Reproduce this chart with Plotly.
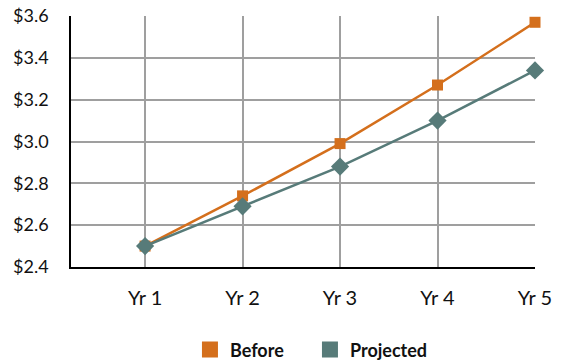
import plotly.graph_objects as go

categories = ["Yr 1", "Yr 2", "Yr 3", "Yr 4", "Yr 5"]
before = [2.50, 2.74, 2.99, 3.27, 3.57]
projected = [2.50, 2.69, 2.88, 3.10, 3.34]
y_ticks = [2.4, 2.6, 2.8, 3.0, 3.2, 3.4, 3.6]
y_labels = ["$2.4", "$2.6", "$2.8", "$3.0", "$3.2", "$3.4", "$3.6"]
series_names = ["Before", "Projected"]

x = list(range(len(categories)))
orange = "#d46f1c"
teal = "#577b79"

fig = go.Figure()
fig.add_trace(go.Scatter(
    x=x, y=before, name=series_names[0], mode="lines+markers", showlegend=False,
    line=dict(color=orange, width=2.5), cliponaxis=False,
    marker=dict(symbol="square", size=11, color=orange),
))
fig.add_trace(go.Scatter(
    x=x, y=projected, name=series_names[1], mode="lines+markers", showlegend=False,
    line=dict(color=teal, width=2.5), cliponaxis=False,
    marker=dict(symbol="diamond", size=14, color=teal),
))
# legend entries (square swatches)
for nm, col in zip(series_names, [orange, teal]):
    fig.add_trace(go.Scatter(
        x=[None], y=[None], name=nm, mode="markers",
        marker=dict(symbol="square", size=17, color=col),
    ))

fig.update_layout(
    width=573, height=362,
    margin=dict(l=71, r=38, t=16, b=95, autoexpand=False),
    paper_bgcolor="white", plot_bgcolor="white",
    font=dict(family="Lato, 'Noto Sans', sans-serif", size=18, color="#111111"),
    showlegend=True,
    legend=dict(
        orientation="h", x=0.515, xanchor="center", y=-0.33, yanchor="middle",
        font=dict(size=18, family="Lato, sans-serif", weight="bold"),
        itemsizing="trace", traceorder="normal", itemwidth=30,
        entrywidth=75, entrywidthmode="pixels",
    ),
    xaxis=dict(
        range=[-0.76, 4], tickmode="array", tickvals=x, ticktext=categories,
        tickfont=dict(size=20),
        showgrid=True, gridcolor="#9f9f9f", gridwidth=1.5,
        showline=True, linecolor="black", linewidth=1.5,
        ticks="", ticklabelstandoff=12, zeroline=False, fixedrange=True,
    ),
    yaxis=dict(
        range=[2.4, 3.6], tickmode="array", tickvals=y_ticks, ticktext=y_labels,
        showgrid=True, gridcolor="#9f9f9f", gridwidth=1.5,
        showline=True, linecolor="black", linewidth=1.5,
        ticks="", ticklabelstandoff=17, zeroline=False, fixedrange=True,
    ),
)

fig.write_html("out.html")
